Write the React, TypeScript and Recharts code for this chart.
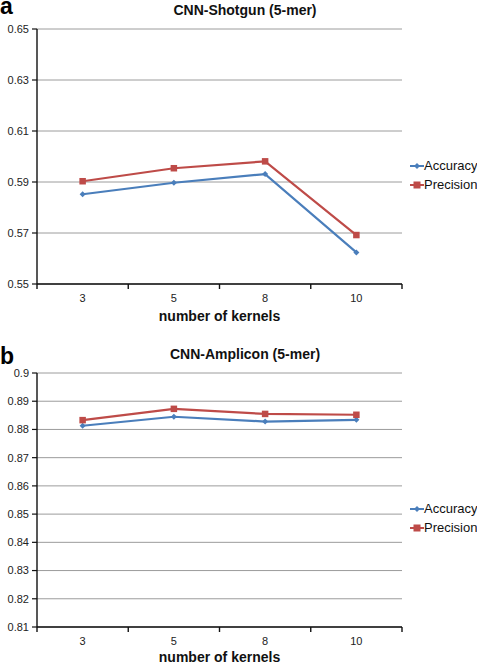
import { LineChart, Line, XAxis, YAxis, CartesianGrid } from 'recharts';

// number of kernels
const kernels = ['3', '5', '8', '10'];

// panel a: CNN-Shotgun (5-mer)
const shotgunAccuracy = [0.5852, 0.5897, 0.5931, 0.5624];
const shotgunPrecision = [0.5903, 0.5954, 0.5981, 0.5692];
const shotgunTicks = [0.55, 0.57, 0.59, 0.61, 0.63, 0.65];

// panel b: CNN-Amplicon (5-mer)
const ampliconAccuracy = [0.8813, 0.8845, 0.8828, 0.8834];
const ampliconPrecision = [0.8833, 0.8873, 0.8855, 0.8852];
const ampliconTicks = [0.81, 0.82, 0.83, 0.84, 0.85, 0.86, 0.87, 0.88, 0.89, 0.9];

const BLUE = '#4a7ebb';
const RED = '#be4b48';
const FONT = '"Liberation Sans", Arial, Helvetica, sans-serif';

// band edges get a tick mark, band centres get the label
const xTicks = [-0.5, 0, 0.5, 1, 1.5, 2, 2.5, 3, 3.5];

function KernelTick(props: any) {
  const { x, y, payload } = props;
  const v = payload.value;
  if (Number.isInteger(v)) {
    return (
      <text x={x} y={y + 18} textAnchor="middle" fontSize={11} fill="#222" fontFamily={FONT}>
        {kernels[v]}
      </text>
    );
  }
  return <line x1={x} x2={x} y1={y} y2={y + 5} stroke="#111" strokeWidth={1.4} />;
}

function Diamond(props: any) {
  const { cx, cy } = props;
  if (cx == null || cy == null) return <g key={props.key} />;
  const r = 3;
  return (
    <path
      key={props.key}
      d={`M${cx},${cy - r}L${cx + r},${cy}L${cx},${cy + r}L${cx - r},${cy}Z`}
      fill={BLUE}
    />
  );
}

function Square(props: any) {
  const { cx, cy } = props;
  if (cx == null || cy == null) return <g key={props.key} />;
  const s = 6.5;
  return <rect key={props.key} x={cx - s / 2} y={cy - s / 2} width={s} height={s} fill={RED} />;
}

const fmt = (v: number) => String(Number(v.toFixed(2)));

function LegendBox({ top }: { top: number }) {
  const items = [
    { name: 'Accuracy', color: BLUE, square: false },
    { name: 'Precision', color: RED, square: true },
  ];
  return (
    <div style={{ position: 'absolute', left: 410, top, fontFamily: FONT, fontSize: 13, color: '#111' }}>
      {items.map((it) => (
        <div key={it.name} style={{ display: 'flex', alignItems: 'center', height: 19 }}>
          <svg width={14} height={10}>
            <line x1={0} x2={14} y1={5} y2={5} stroke={it.color} strokeWidth={2} />
            {it.square ? (
              <rect x={3.5} y={1.5} width={7} height={7} fill={it.color} />
            ) : (
              <path d="M7,2L10,5L7,8L4,5Z" fill={it.color} />
            )}
          </svg>
          <span>{it.name}</span>
        </div>
      ))}
    </div>
  );
}

interface PanelProps {
  letter: string;
  title: string;
  accuracy: number[];
  precision: number[];
  ticks: number[];
  top: number;
  height: number;
  marginTop: number;
  axisHeight: number;
  labelOffset: number;
  legendTop: number;
  titleTop: number;
  letterTop: number;
}

function Panel(p: PanelProps) {
  const data = kernels.map((k, i) => ({
    idx: i,
    kernels: k,
    Accuracy: p.accuracy[i],
    Precision: p.precision[i],
  }));
  const domain = [p.ticks[0], p.ticks[p.ticks.length - 1]];

  return (
    <div style={{ position: 'absolute', left: 0, top: p.top, width: 477, height: p.height }}>
      <div
        style={{
          position: 'absolute',
          left: 0,
          top: p.letterTop,
          fontFamily: FONT,
          fontWeight: 'bold',
          fontSize: 23,
          lineHeight: '13px',
        }}
      >
        {p.letter}
      </div>
      <div
        style={{
          position: 'absolute',
          left: 145,
          width: 200,
          top: p.titleTop,
          textAlign: 'center',
          fontFamily: FONT,
          fontWeight: 'bold',
          fontSize: 14,
          lineHeight: '16px',
          color: '#111',
        }}
      >
        {p.title}
      </div>
      <LineChart
        width={477}
        height={p.height}
        data={data}
        margin={{ top: p.marginTop, right: 75, bottom: 0, left: 0 }}
      >
        <CartesianGrid vertical={false} stroke="#9c9c9c" strokeWidth={1} />
        <XAxis
          dataKey="idx"
          type="number"
          domain={[-0.5, 3.5]}
          ticks={xTicks}
          interval={0}
          tick={KernelTick}
          tickLine={false}
          tickSize={0}
          tickMargin={0}
          height={p.axisHeight}
          axisLine={{ stroke: '#111', strokeWidth: 1.4 }}
          label={{
            value: 'number of kernels',
            position: 'insideBottom',
            offset: p.labelOffset,
            style: { fontFamily: FONT, fontWeight: 'bold', fontSize: 14, fill: '#111' },
          }}
        />
        <YAxis
          width={37}
          domain={domain}
          ticks={p.ticks}
          interval={0}
          tickFormatter={fmt}
          tickSize={5}
          tickMargin={3}
          tick={{ fontSize: 11, fill: '#222', fontFamily: FONT }}
          tickLine={{ stroke: '#111', strokeWidth: 1.2 }}
          axisLine={{ stroke: '#111', strokeWidth: 1.4 }}
        />
        <Line
          dataKey="Accuracy"
          stroke={BLUE}
          strokeWidth={2.2}
          dot={Diamond}
          activeDot={false}
          isAnimationActive={false}
        />
        <Line
          dataKey="Precision"
          stroke={RED}
          strokeWidth={2.2}
          dot={Square}
          activeDot={false}
          isAnimationActive={false}
        />
      </LineChart>
      <LegendBox top={p.legendTop} />
    </div>
  );
}

export default function App() {
  return (
    <div style={{ position: 'absolute', left: 0, top: 0, width: 477, height: 665, background: '#fff' }}>
      <Panel
        letter="a"
        title="CNN-Shotgun (5-mer)"
        accuracy={shotgunAccuracy}
        precision={shotgunPrecision}
        ticks={shotgunTicks}
        top={0}
        height={330}
        marginTop={29}
        axisHeight={46}
        labelOffset={9}
        legendTop={156}
        titleTop={2}
        letterTop={0}
      />
      <Panel
        letter="b"
        title="CNN-Amplicon (5-mer)"
        accuracy={ampliconAccuracy}
        precision={ampliconPrecision}
        ticks={ampliconTicks}
        top={330}
        height={335}
        marginTop={43}
        axisHeight={38}
        labelOffset={3}
        legendTop={169}
        titleTop={16}
        letterTop={20}
      />
    </div>
  );
}
